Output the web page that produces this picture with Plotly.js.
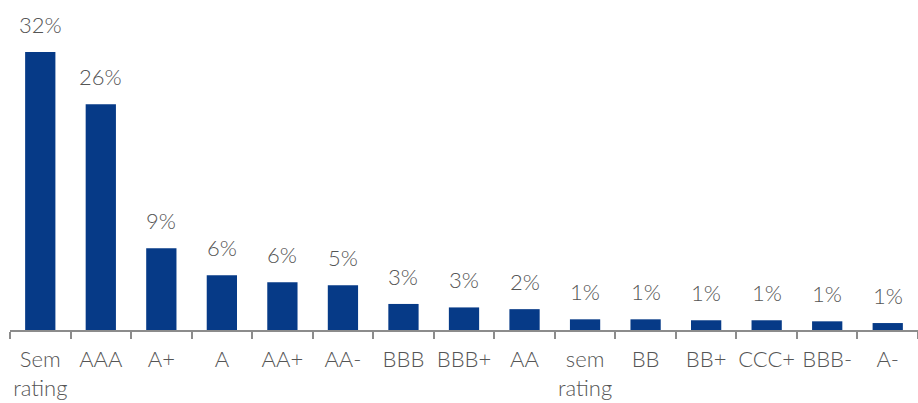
<!DOCTYPE html>
<html>
<head>
<meta charset="utf-8">
<script src="https://cdn.plot.ly/plotly-3.0.1.min.js"></script>
<style>html,body{margin:0;padding:0;background:#fff;}#chart{width:918px;height:403px;}</style>
</head>
<body>
<div id="chart"></div>
<script>
var categories = ["Sem<br>rating","AAA","A+","A","AA+","AA-","BBB","BBB+","AA","sem<br>rating","BB","BB+","CCC+","BBB-","A-"];
var values = [32.0, 26.0, 9.4, 6.3, 5.5, 5.15, 3.0, 2.6, 2.4, 1.23, 1.23, 1.12, 1.12, 1.0, 0.8];
var labels = values.map(function(v){ return Math.round(v) + "%"; });

var textColor = "#555555";
var fontFam = "Lato, 'Open Sans', sans-serif";

var annotations = categories.map(function(c, i){
  return {x: c, y: values[i], text: labels[i], showarrow: false, xanchor: "center", yanchor: "bottom",
          yshift: 12, font: {family: fontFam, size: 22, weight: 300, color: textColor}};
});

Plotly.newPlot("chart", [{
  type: "bar",
  x: categories,
  y: values,
  marker: {color: "#063a87"},
  hoverinfo: "none"
}], {
  width: 918, height: 403,
  margin: {l: 10, r: 0, t: 0, b: 73},
  bargap: 0.5,
  paper_bgcolor: "#fff", plot_bgcolor: "#fff",
  showlegend: false,
  xaxis: {
    type: "category",
    showline: true, linecolor: "#8c8c8c", linewidth: 2,
    ticks: "outside", tickson: "boundaries", ticklen: 7, tickcolor: "#8c8c8c", tickwidth: 2,
    tickangle: 0, automargin: false,
    ticklabelstandoff: 9,
    tickfont: {family: fontFam, size: 22, weight: 300, color: textColor},
    showgrid: false, zeroline: false, fixedrange: true
  },
  yaxis: {
    range: [0, 38.0], visible: false, showgrid: false, zeroline: false, fixedrange: true
  },
  annotations: annotations
}, {displayModeBar: false, staticPlot: true});
</script>
</body>
</html>
